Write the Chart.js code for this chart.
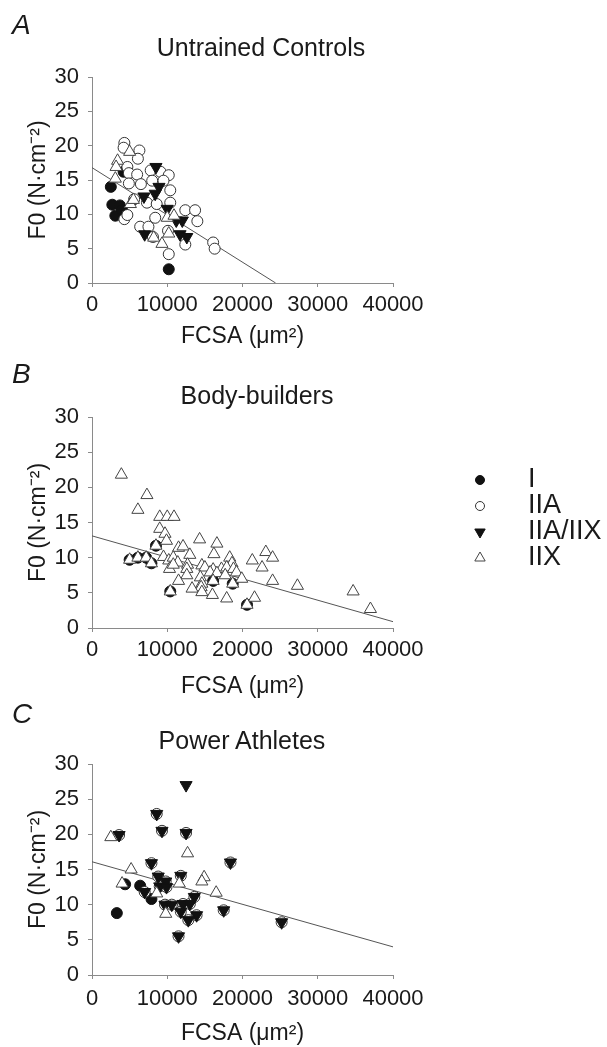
<!DOCTYPE html>
<html>
<head>
<meta charset="utf-8">
<script src="https://cdn.jsdelivr.net/npm/chart.js@4.4.1/dist/chart.umd.min.js"></script>
<style>
  html, body { margin: 0; padding: 0; background: #fff; }
  body { width: 607px; height: 1047px; position: relative; overflow: hidden; }
  canvas { position: absolute; left: 0; }
  .letter, .title { position: absolute; font-family: "Liberation Sans", Arial, sans-serif; color: #1a1a1a; white-space: nowrap; }
  .letter { left: 12px; font-style: italic; font-size: 28px; line-height: 28px; }
  .title { width: 300px; text-align: center; font-size: 25px; line-height: 25px; }
</style>
</head>
<body>
<canvas id="panelA" width="607" height="350" style="top:0;width:607px;height:350px"></canvas>
<canvas id="panelB" width="607" height="350" style="top:350px;width:607px;height:350px"></canvas>
<canvas id="panelC" width="607" height="347" style="top:700px;width:607px;height:347px"></canvas>
<div class="letter" style="top:11px">A</div>
<div class="letter" style="top:360px">B</div>
<div class="letter" style="top:700px">C</div>
<div class="title" style="top:35px;left:111px">Untrained Controls</div>
<div class="title" style="top:383px;left:107px">Body-builders</div>
<div class="title" style="top:728px;left:92px">Power Athletes</div>
<script>
// Three scatter panels of F0 against fibre CSA, one per group, with the
// fitted line per group and the fibre-type key drawn beside panel B.

const FONT = '"Liberation Sans", Arial, sans-serif';
const TEXT = '#1a1a1a';
const AXIS = '#8a8a8a';

const FIBER_TYPES = ['I', 'IIA', 'IIA/IIX', 'IIX'];
const X_TICK_STEP = 10000;
const Y_TICK_STEP = 5;

// Panel A: untrained controls, [FCSA µm², F0 N/cm²]
const ctrlTypeI = [[4200, 16.2], [2500, 14.0], [2700, 11.4], [3700, 11.3], [3100, 9.8], [4000, 10.6], [10200, 2.0]];
const ctrlTypeIIA = [
  [4300, 20.4], [4200, 19.7], [6300, 19.3], [6100, 18.1], [4700, 16.9], [4900, 16.0], [6000, 15.8],
  [6500, 14.4], [4900, 14.5], [7800, 16.4], [9100, 16.2], [10200, 15.7], [8000, 14.9], [9500, 14.9],
  [10400, 13.5], [5600, 12.2], [7300, 11.7], [8600, 11.5], [10400, 11.7], [8400, 9.5], [12400, 10.6],
  [13700, 10.6], [14000, 9.0], [6400, 8.2], [7500, 8.2], [12400, 5.6], [10200, 4.2], [16100, 5.9],
  [16300, 5.0], [4300, 9.3], [4700, 9.9], [8100, 6.7], [10100, 7.6]
];
const ctrlTypeIIAIIX = [
  [8500, 16.9], [8900, 14.0], [8400, 13.0], [6900, 12.6], [10000, 10.8], [11200, 9.1], [12000, 9.1],
  [7000, 7.1], [11700, 7.1], [12600, 6.7]
];
const ctrlTypeIIX = [
  [5000, 19.1], [3400, 17.8], [3200, 16.9], [3100, 15.2], [5100, 11.5], [5500, 12.1], [10000, 9.5],
  [10900, 9.8], [9300, 5.7], [10200, 7.2], [8200, 6.6]
];
const ctrlFit = [[0, 16.8], [24400, 0]];

// Panel B: body-builders
const bbTypeI = [
  [5000, 9.7], [6100, 10.0], [7200, 10.0], [7900, 9.2], [8500, 11.7], [10400, 5.2], [16100, 6.7],
  [18700, 6.3], [20600, 3.3]
];
const bbTypeIIA = [];
const bbTypeIIAIIX = [];
const bbTypeIIX = [
  [3900, 21.8], [7300, 18.9], [6100, 16.8], [9000, 15.8], [10000, 15.8], [10900, 15.8], [9000, 14.1],
  [9700, 13.4], [9900, 12.4], [8500, 11.7], [14300, 12.6], [16600, 12.0], [11500, 11.4], [12100, 11.6],
  [13000, 10.4], [16200, 10.5], [9500, 10.1], [10200, 9.6], [10800, 10.0], [11400, 9.3], [12700, 9.0],
  [18300, 10.0], [18600, 9.2], [21300, 9.6], [23100, 10.8], [24000, 10.0], [22600, 8.6], [10300, 8.4],
  [10800, 9.0], [12600, 8.4], [14600, 8.9], [15000, 8.6], [16100, 8.3], [17200, 8.4], [17900, 8.6],
  [18800, 8.4], [19200, 7.9], [19900, 7.0], [15700, 7.9], [16600, 7.8], [17700, 7.5], [14400, 7.2],
  [12600, 7.5], [11500, 6.7], [14600, 6.3], [14500, 5.8], [13300, 5.6], [14600, 5.1], [16000, 4.7],
  [17900, 4.2], [21600, 4.3], [24000, 6.7], [27300, 6.0], [34700, 5.2], [37000, 2.7],
  [5000, 9.7], [6100, 10.0], [7200, 10.0], [7900, 9.2], [10400, 5.2], [16100, 6.7], [18700, 6.3],
  [20600, 3.3]
];
const bbFit = [[0, 13.1], [40000, 0.9]];

// Panel C: power athletes
const paTypeI = [[3300, 8.8], [6400, 12.7], [4400, 12.9], [7900, 10.8]];
const paTypeIIA = [
  [3600, 19.9], [8600, 22.9], [9300, 20.5], [12500, 20.2], [7900, 15.9], [18400, 16.0], [8800, 14.0],
  [9800, 13.3], [11800, 14.1], [9000, 12.6], [9900, 12.5], [7000, 11.8], [9700, 10.0], [10600, 10.0],
  [12100, 10.1], [13000, 10.1], [13600, 11.1], [13900, 8.5], [11800, 9.0], [12800, 7.8], [17500, 9.2],
  [11500, 5.5], [25200, 7.5]
];
const paTypeIIAIIX = [
  [3600, 19.9], [8600, 22.9], [9300, 20.5], [12500, 20.2], [7900, 15.9], [18400, 16.0], [8800, 14.0],
  [9800, 13.3], [11800, 14.1], [9000, 12.6], [9900, 12.5], [7000, 11.8], [9700, 10.0], [10600, 10.0],
  [12100, 10.1], [13000, 10.1], [13600, 11.1], [13900, 8.5], [11800, 9.0], [12800, 7.8], [17500, 9.2],
  [11500, 5.5], [25200, 7.5], [12500, 27.0]
];
const paTypeIIX = [
  [2500, 19.6], [5200, 15.0], [4000, 13.0], [12700, 17.3], [14900, 13.9], [14600, 13.3], [16500, 11.7],
  [8600, 11.6], [9800, 8.7], [11600, 13.0]
];
const paFit = [[0, 16.1], [40000, 4.0]];

// marker look per fibre type; `order` keeps the later types on top
const TYPE_STYLES = {
  'I': { shape: 'circle', rotation: 0, radius: 5.5, fill: '#111', stroke: '#111', order: 4, legendRadius: 4.5 },
  'IIA': { shape: 'circle', rotation: 0, radius: 5.5, fill: '#fff', stroke: '#333', order: 3, legendRadius: 4.5 },
  'IIA/IIX': { shape: 'triangle', rotation: 180, radius: 7, fill: '#111', stroke: '#111', order: 2, legendRadius: 6 },
  'IIX': { shape: 'triangle', rotation: 0, radius: 7, fill: '#fff', stroke: '#444', order: 1, legendRadius: 6 }
};

function toPoints(pairs) {
  return pairs.map(([x, y]) => ({ x, y }));
}

function panelDatasets(groups, fit) {
  const sets = FIBER_TYPES.map((type, i) => {
    const style = TYPE_STYLES[type];
    return {
      label: type,
      data: toPoints(groups[i]),
      pointStyle: style.shape,
      rotation: style.rotation,
      pointRadius: style.radius,
      pointBackgroundColor: style.fill,
      pointBorderColor: style.stroke,
      pointBorderWidth: 1,
      order: style.order
    };
  });
  sets.push({
    label: 'fit',
    data: toPoints(fit),
    showLine: true,
    pointRadius: 0,
    borderColor: '#555',
    borderWidth: 1,
    order: 5
  });
  return sets;
}

// key for the fibre types, drawn in panel B's canvas beside the plot
const fiberLegend = {
  id: 'fiberLegend',
  afterDraw(chart, args, opts) {
    const ctx = chart.ctx;
    ctx.save();
    FIBER_TYPES.forEach((type, i) => {
      const style = TYPE_STYLES[type];
      const y = opts.top + i * opts.spacing;
      ctx.fillStyle = style.fill;
      ctx.strokeStyle = style.stroke;
      ctx.lineWidth = 1;
      Chart.helpers.drawPoint(ctx, {
        pointStyle: style.shape, rotation: style.rotation, radius: style.legendRadius, borderWidth: 1
      }, opts.markerX, y);
      ctx.fillStyle = TEXT;
      ctx.font = `${opts.fontSize}px ${FONT}`;
      ctx.textAlign = 'left';
      ctx.textBaseline = 'middle';
      ctx.fillText(type, opts.textX, y);
    });
    ctx.restore();
  }
};

function renderPanel(id, p) {
  const canvas = document.getElementById(id);
  return new Chart(canvas.getContext('2d'), {
    type: 'scatter',
    data: { datasets: panelDatasets(p.groups, p.fit) },
    options: {
      responsive: false,
      animation: false,
      events: [],
      layout: { padding: { left: 0, right: 214, top: p.plotTop, bottom: 0 } },
      plugins: {
        legend: { display: false },
        tooltip: { enabled: false },
        fiberLegend: p.legend || false
      },
      scales: {
        x: {
          type: 'linear',
          min: 0,
          max: 40000,
          afterFit: (s) => { s.height = p.xAxisHeight; },
          ticks: {
            stepSize: X_TICK_STEP,
            color: TEXT,
            padding: p.xTickPadding,
            maxRotation: 0,
            font: { family: FONT, size: 22 },
            callback: (v) => String(v)
          },
          grid: { drawOnChartArea: false, drawTicks: true, tickLength: 4, color: AXIS },
          border: { color: AXIS, width: 1 },
          title: {
            display: true,
            text: 'FCSA (μm²)',
            color: TEXT,
            font: { family: FONT, size: 23 },
            padding: { top: 0, bottom: 0 }
          }
        },
        y: {
          type: 'linear',
          min: 0,
          max: 30,
          afterFit: (s) => { s.width = 92; },
          ticks: {
            stepSize: Y_TICK_STEP,
            color: TEXT,
            padding: 9,
            font: { family: FONT, size: 22 }
          },
          grid: { drawOnChartArea: false, drawTicks: true, tickLength: 4, color: AXIS },
          border: { color: AXIS, width: 1 },
          title: {
            display: true,
            text: 'F0 (N·cm⁻²)',
            color: TEXT,
            font: { family: FONT, size: 23 },
            padding: { top: 25, bottom: 0 }
          }
        }
      }
    },
    plugins: p.legend ? [fiberLegend] : []
  });
}

renderPanel('panelA', {
  groups: [ctrlTypeI, ctrlTypeIIA, ctrlTypeIIAIIX, ctrlTypeIIX],
  fit: ctrlFit,
  plotTop: 77,
  xAxisHeight: 67,
  xTickPadding: 5
});

renderPanel('panelB', {
  groups: [bbTypeI, bbTypeIIA, bbTypeIIAIIX, bbTypeIIX],
  fit: bbFit,
  plotTop: 67,
  xAxisHeight: 72,
  xTickPadding: 5,
  legend: { top: 130, spacing: 26, markerX: 480, textX: 528, fontSize: 27 }
});

renderPanel('panelC', {
  groups: [paTypeI, paTypeIIA, paTypeIIAIIX, paTypeIIX],
  fit: paFit,
  plotTop: 64,
  xAxisHeight: 72,
  xTickPadding: 7
});
</script>
</body>
</html>
